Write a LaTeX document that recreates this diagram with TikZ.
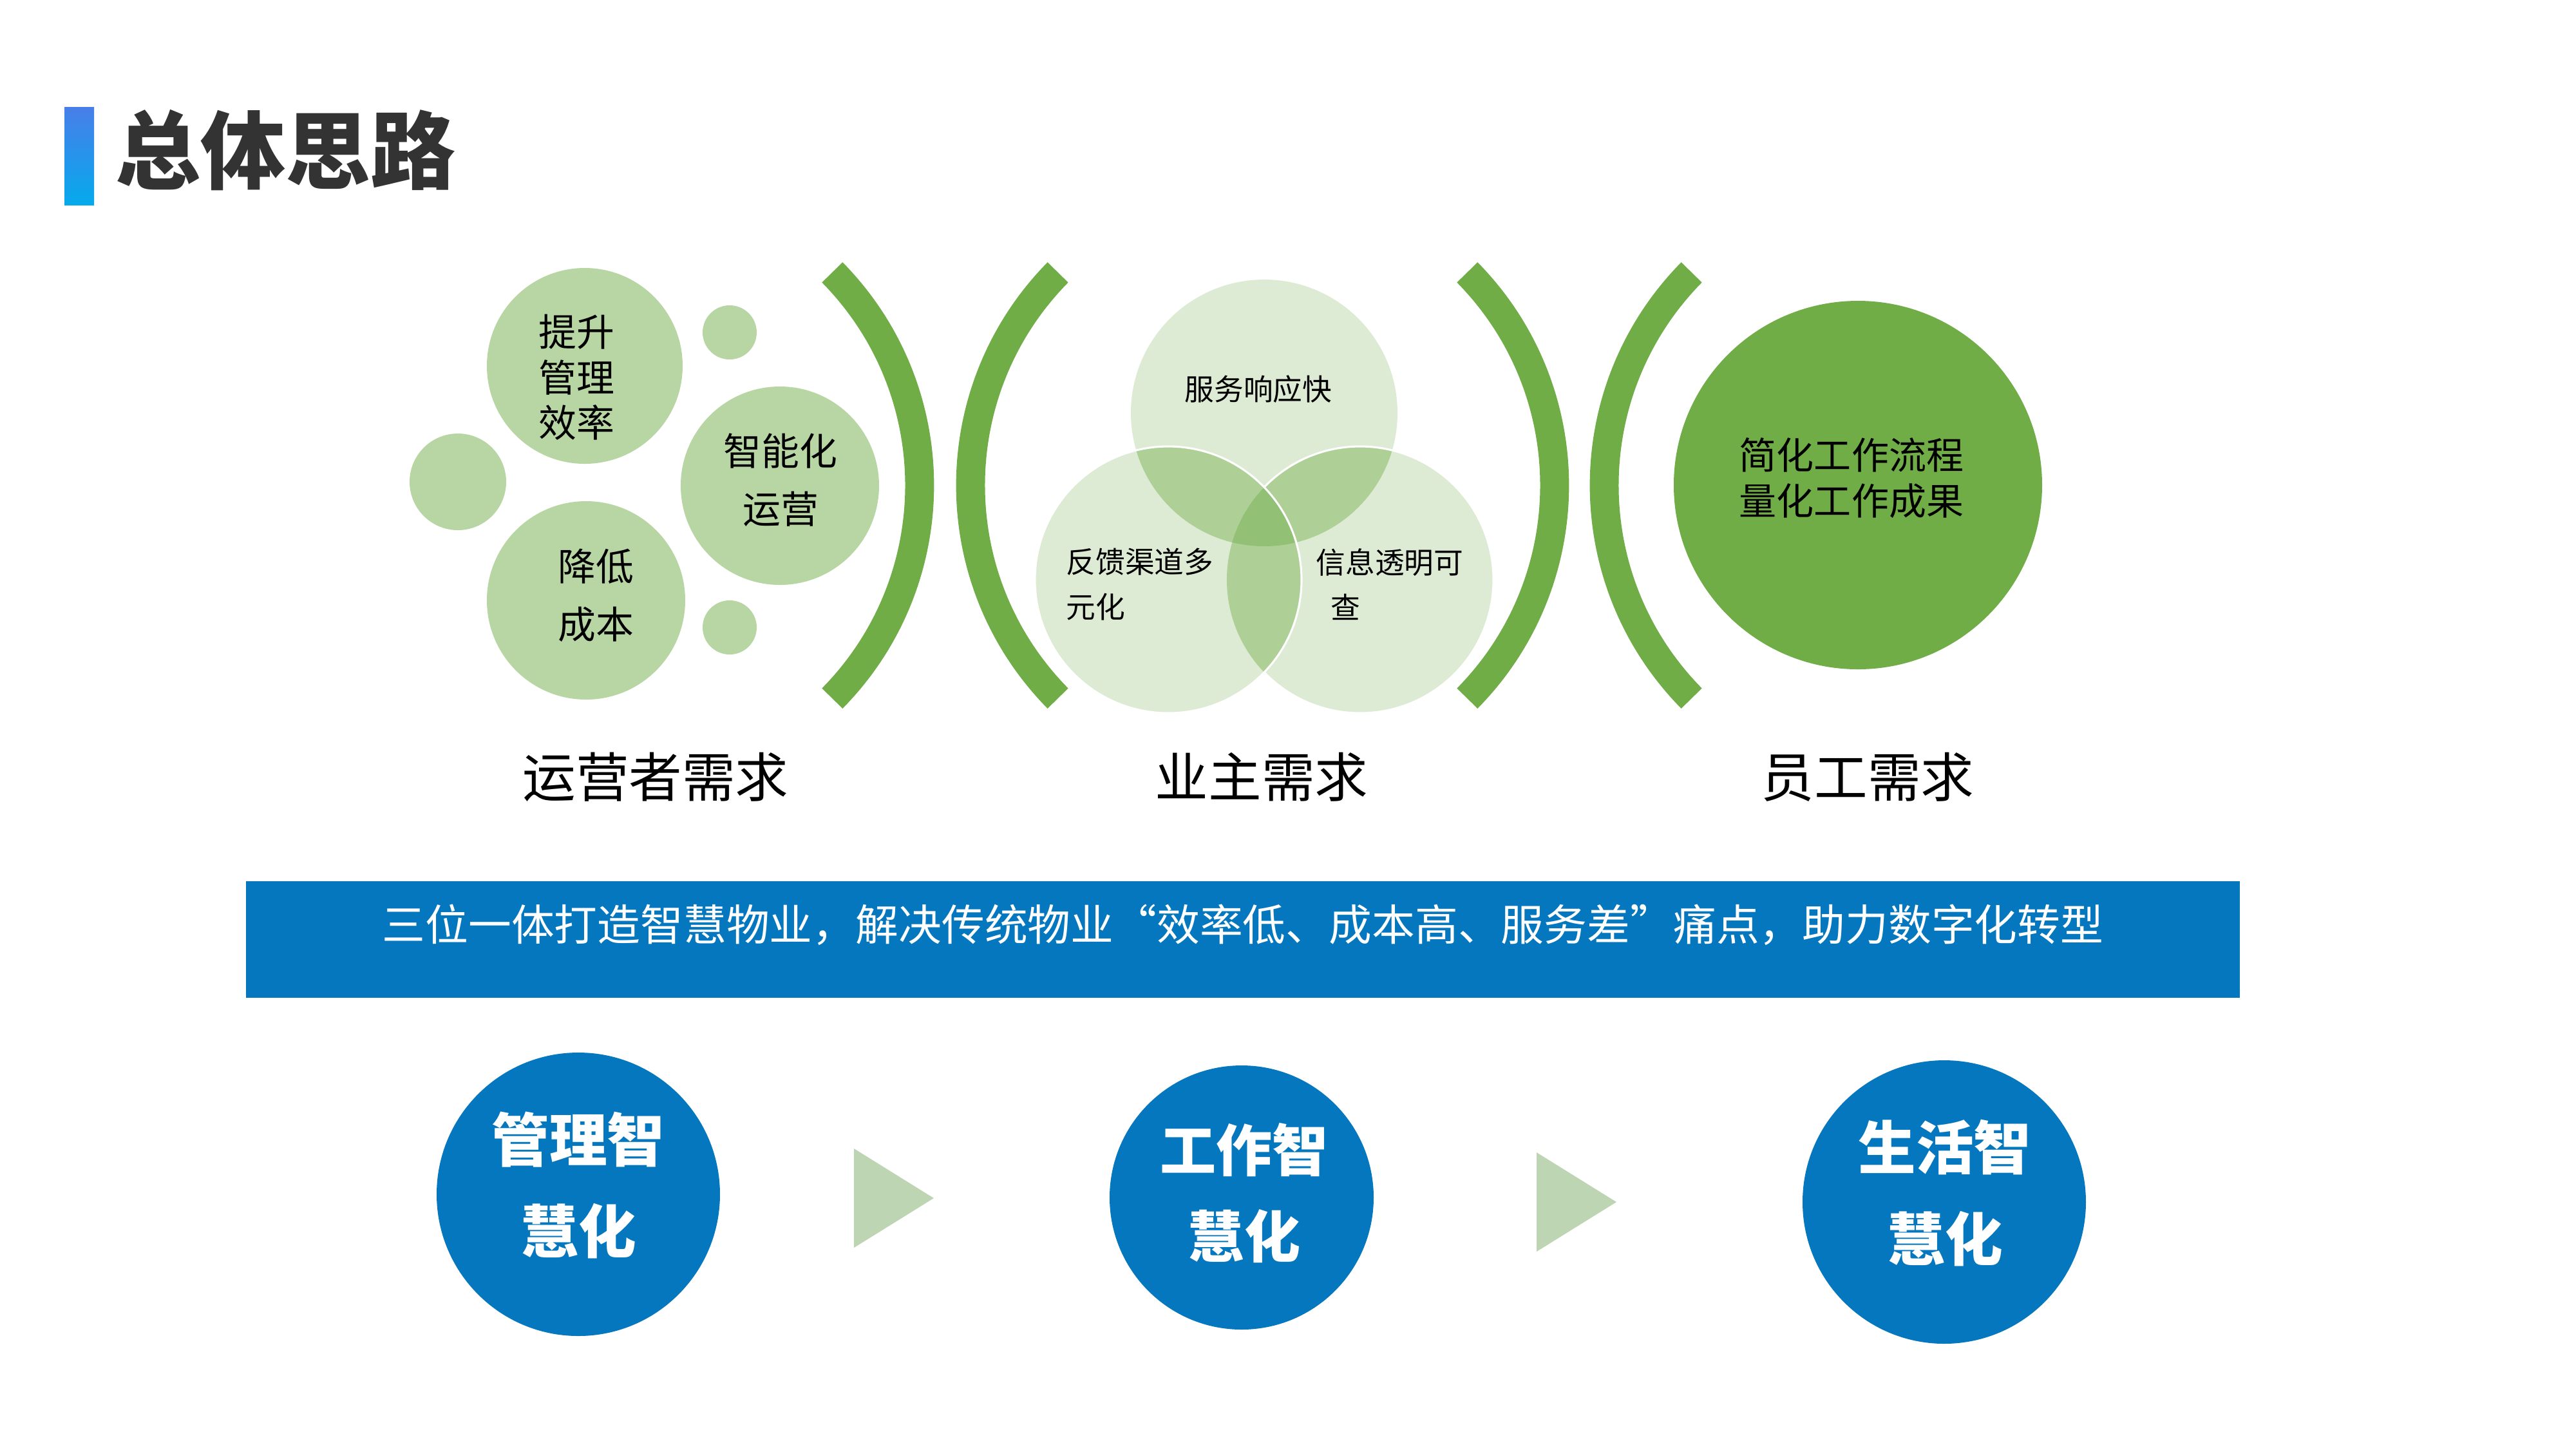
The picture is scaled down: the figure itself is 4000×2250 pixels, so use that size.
\documentclass[tikz,border=0pt]{standalone}
\usepackage{fontspec}
\setmainfont{Noto Sans CJK SC}
\usepackage{tikz}
\definecolor{lgreen}{RGB}{184,214,164}
\definecolor{dgreen}{RGB}{112,173,71}
\definecolor{vbase}{RGB}{222,235,212}
\definecolor{vlens}{RGB}{174,208,151}
\definecolor{vmid}{RGB}{146,193,117}
\definecolor{bandblue}{RGB}{4,119,191}
\definecolor{arrowgreen}{RGB}{189,213,179}
\definecolor{titlegray}{RGB}{51,51,51}
\definecolor{titletop}{RGB}{72,126,233}
\definecolor{titlebot}{RGB}{5,170,236}
\begin{document}
\begin{tikzpicture}[x=0.004cm, y=-0.004cm]
\tikzstyle{txt}=[inner sep=0pt, align=center, font=\fontsize{6.7}{8}\selectfont]
\tikzstyle{vtxt}=[inner sep=0pt, align=center, font=\fontsize{5.2}{8}\selectfont]
\tikzstyle{need}=[inner sep=0pt, font=\fontsize{9.4}{11}\selectfont]
\tikzstyle{bracket}=[dgreen, line width=5.1pt]
\tikzstyle{smart}=[inner sep=0pt, align=center, text=white, font=\fontsize{10.2}{16.2}\selectfont\bfseries]
\useasboundingbox (0,0) rectangle (4000,2250);
% title
\shade[top color=titletop, bottom color=titlebot] (100,166) rectangle (146,318);
\node[anchor=west, inner sep=0pt, text=titlegray, font=\fontsize{15}{18}\selectfont\bfseries] (title) at (178,233) {总体思路};
% operator needs
\foreach \x/\y/\r in {908/568/152, 1133/516/42, 711/748/75, 1211/754/154, 910/932/154, 1133/974/42}{\fill[lgreen] (\x,\y) circle[radius=\r];}
\node[txt] (eff) at (895,586) {提升\\管理\\效率};
\node[txt, font=\fontsize{6.7}{10.2}\selectfont] (smartop) at (1212,745) {智能化\\运营};
\node[txt, font=\fontsize{6.7}{10.2}\selectfont] (cost) at (925,924) {降低\\成本};
\foreach \c/\s/\e in {957/-44.6/44.6, 1978/135.4/224.6, 1943/-44.6/44.6, 2962/135.4/224.6}{\draw[bracket] (\c,753.5) ++(\s:471) arc[start angle=\s, end angle=\e, radius=471];}
% owner needs
\coordinate (vtop) at (1963,641);
\coordinate (vleft) at (1814,900);
\coordinate (vright) at (2112,900);
\fill[vbase] (vtop) circle[radius=207];
\fill[vbase] (vright) circle[radius=207];
\begin{scope}
\clip (vtop) circle[radius=207];
\fill[vlens] (vright) circle[radius=207];
\end{scope}
\draw[white, line width=0.35pt] (vright) circle[radius=207];
\fill[vbase] (vleft) circle[radius=207];
\begin{scope}
\clip (vleft) circle[radius=207];
\fill[vlens] (vtop) circle[radius=207];
\fill[vlens] (vright) circle[radius=207];
\clip (vtop) circle[radius=207];
\fill[vmid] (vright) circle[radius=207];
\end{scope}
\draw[white, line width=0.35pt] (vleft) circle[radius=207];
\node[vtxt] (fast) at (1954,604) {服务响应快};
\node[vtxt, anchor=west, align=left] (feed) at (1654,907) {反馈渠道多\\元化};
\node[vtxt, anchor=west, align=left] (info) at (2042,907) {信息透明可\\\hspace*{.5em}查};
% staff needs
\fill[dgreen] (2885,753) circle[radius=286];
\node[txt, font=\fontsize{6.6}{8.1}\selectfont] (flow) at (2875,742) {简化工作流程\\量化工作成果};
\foreach \n/\x/\t in {opneed/1018/运营者需求, ownneed/1959/业主需求, staffneed/2900/员工需求}{\node[need] (\n) at (\x,1206) {\t};}
% band
\fill[bandblue] (382,1368) rectangle (3478,1549);
\node[inner sep=0pt, text=white, font=\fontsize{7.6}{9}\selectfont] (goal) at (1930,1436) {三位一体打造智慧物业，解决传统物业“效率低、成本高、服务差”痛点，助力数字化转型};
% smart circles
\foreach \x/\y/\r in {898/1854/220, 1928/1859/205, 3019/1866/220}{\fill[bandblue] (\x,\y) circle[radius=\r];}
\foreach \x/\y in {1326/1860, 2386/1866}{\fill[arrowgreen] (\x,\y-77) -- (\x,\y+77) -- (\x+124,\y) -- cycle;}
\node[smart] (mgmt) at (898,1840) {管理智\\慧化};
\node[smart, font=\fontsize{9.9}{15.3}\selectfont\bfseries] (work) at (1932,1852) {工作智\\慧化};
\node[smart] (life) at (3020,1852) {生活智\\慧化};
\end{tikzpicture}
\end{document}
